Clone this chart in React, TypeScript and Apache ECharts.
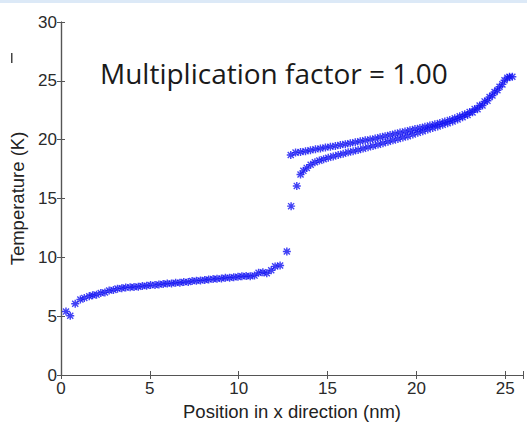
import React, { useEffect, useRef } from "react";
import * as echarts from "echarts";

const xTicks = [0, 5, 10, 15, 20, 25];
const yTicks = [0, 5, 10, 15, 20, 25, 30];

// low-temperature side (x < 12.8 nm)
const lowSide: [number, number][] = [
  [0.28, 5.39], [0.52, 5.03], [0.8, 6.05], [1.09, 6.41], [1.31, 6.55], [1.59, 6.69],
  [1.78, 6.77], [2.0, 6.83], [2.24, 6.96], [2.47, 7.02], [2.71, 7.18], [2.95, 7.23],
  [3.18, 7.34], [3.42, 7.37], [3.64, 7.43], [3.89, 7.45], [4.11, 7.48], [4.35, 7.51],
  [4.58, 7.56], [4.82, 7.59], [5.04, 7.64], [5.29, 7.64], [5.51, 7.7], [5.75, 7.73],
  [5.98, 7.78], [6.22, 7.78], [6.45, 7.84], [6.69, 7.84], [6.91, 7.9], [7.16, 7.9],
  [7.38, 7.98], [7.62, 8.01], [7.85, 8.04], [8.09, 8.07], [8.31, 8.12], [8.56, 8.15],
  [8.78, 8.18], [9.03, 8.2], [9.25, 8.26], [9.49, 8.26], [9.72, 8.31], [9.96, 8.34],
  [10.18, 8.4], [10.42, 8.42], [10.65, 8.4], [10.89, 8.45], [11.12, 8.68], [11.36, 8.73],
  [11.58, 8.65], [11.83, 8.9], [12.05, 9.23], [12.33, 9.31], [12.71, 10.5],
];

// high-temperature side, upper row
const highUpper: [number, number][] = [
  [12.93, 18.7], [13.2, 18.9], [13.48, 18.95], [13.76, 19.02], [14.04, 19.1], [14.32, 19.18],
  [14.6, 19.25], [14.88, 19.33], [15.16, 19.4], [15.44, 19.47], [15.72, 19.54], [16.0, 19.62],
  [16.28, 19.7], [16.56, 19.78], [16.84, 19.86], [17.12, 19.94], [17.4, 20.02], [17.68, 20.1],
  [17.96, 20.2], [18.24, 20.3], [18.52, 20.4], [18.8, 20.5], [19.08, 20.6], [19.36, 20.7],
  [19.64, 20.8], [19.92, 20.9], [20.2, 21.0], [20.48, 21.1], [20.76, 21.2], [21.04, 21.3],
  [21.32, 21.42], [21.6, 21.55], [21.88, 21.68], [22.16, 21.82], [22.44, 21.98], [22.72, 22.15],
  [23.0, 22.35], [23.28, 22.6], [23.56, 22.9], [23.84, 23.25], [24.12, 23.62], [24.4, 24.05],
  [24.68, 24.5], [24.96, 25.05], [25.24, 25.35],
];

// high-temperature side, lower row
const highLower: [number, number][] = [
  [12.95, 14.35], [13.27, 16.07], [13.48, 17.04], [13.64, 17.35], [13.83, 17.6], [14.05, 17.87],
  [14.29, 18.08], [14.54, 18.22], [14.78, 18.34], [15.04, 18.46], [15.32, 18.58], [15.6, 18.7],
  [15.88, 18.8], [16.16, 18.92], [16.44, 19.02], [16.72, 19.12], [17.0, 19.24], [17.28, 19.35],
  [17.56, 19.46], [17.84, 19.58], [18.12, 19.7], [18.4, 19.82], [18.68, 19.94], [18.96, 20.06],
  [19.24, 20.18], [19.52, 20.3], [19.8, 20.44], [20.08, 20.58], [20.36, 20.72], [20.64, 20.86],
  [20.92, 21.0], [21.2, 21.12], [21.48, 21.26], [21.76, 21.4], [22.04, 21.55], [22.32, 21.72],
  [22.6, 21.9], [22.88, 22.1], [23.16, 22.32], [23.44, 22.58], [23.72, 22.9], [24.0, 23.3],
  [24.28, 23.75], [24.56, 24.2], [24.84, 24.7], [25.12, 25.25], [25.4, 25.35],
];

const title = "Multiplication factor = 1.00";
const xName = "Position in x direction (nm)";
const yName = "Temperature (K)";

const STAR =
  "path://M0,4.1 H10 V5.9 H0 Z M4.1,0 H5.9 V10 H4.1 Z M1.8,0.6 L9.4,8.2 L8.2,9.4 L0.6,1.8 Z M8.2,0.6 L9.4,1.8 L1.8,9.4 L0.6,8.2 Z";

const FONT = "Liberation Sans, Arial, sans-serif";

export default function App() {
  const ref = useRef<HTMLDivElement>(null);
  useEffect(() => {
    if (!ref.current) return;
    const chart = echarts.init(ref.current, undefined, { renderer: "svg" });
    const axisColor = "#555";
    const labelStyle = { color: "#2a2a2a", fontSize: 17, fontFamily: FONT };
    const mkSeries = (data: [number, number][]) => ({
      type: "scatter",
      data,
      symbol: STAR,
      symbolSize: 8,
      itemStyle: { color: "#1212f2" },
      xAxisIndex: 0,
      yAxisIndex: 0,
    });
    const mirrorTick = { show: true, inside: true, length: 4, lineStyle: { color: axisColor } };
    chart.setOption({
      animation: false,
      backgroundColor: "#ffffff",
      grid: { left: 60, right: 4, top: 22, bottom: 42, containLabel: false },
      xAxis: [
        {
          type: "value", min: 0, max: 26, interval: 5, position: "bottom",
          axisLine: { show: true, lineStyle: { color: axisColor, width: 1.2 } },
          axisTick: mirrorTick,
          splitLine: { show: false },
          axisLabel: {
            ...labelStyle, margin: 5,
            formatter: (v: number) => (xTicks.includes(v) ? String(v) : ""),
          },
          name: xName, nameLocation: "middle", nameGap: 27,
          nameTextStyle: { color: "#222", fontSize: 18.5, fontFamily: FONT },
        },
        {
          type: "value", min: 0, max: 26, interval: 5, position: "top",
          axisLine: { show: true, lineStyle: { color: axisColor, width: 1.2 } },
          axisTick: mirrorTick,
          axisLabel: { show: false }, splitLine: { show: false },
        },
      ],
      yAxis: [
        {
          type: "value", min: 0, max: 30, interval: 5, position: "left",
          axisLine: { show: true, lineStyle: { color: axisColor, width: 1.2 } },
          axisTick: mirrorTick,
          splitLine: { show: false },
          axisLabel: {
            ...labelStyle, margin: 4,
            formatter: (v: number) => (yTicks.includes(v) ? String(v) : ""),
          },
          name: yName, nameLocation: "middle", nameGap: 34, nameRotate: 90,
          nameTextStyle: { color: "#222", fontSize: 18.5, fontFamily: FONT },
        },
        {
          type: "value", min: 0, max: 30, interval: 5, position: "right",
          axisLine: { show: true, lineStyle: { color: axisColor, width: 1.2 } },
          axisTick: mirrorTick,
          axisLabel: { show: false }, splitLine: { show: false },
        },
      ],
      graphic: [
        { type: "rect", left: 0, top: 0, shape: { width: 527, height: 3 }, style: { fill: "#dce9f7" } },
        { type: "rect", left: 11, top: 53, shape: { width: 1.5, height: 10 }, style: { fill: "#444" } },
        {
          type: "text", x: 100, y: 73,
          style: {
            text: title, fill: "#1a1a1a", fontSize: 28, fontFamily: "Open Sans, sans-serif",
            verticalAlign: "middle", align: "left",
          },
        },
      ],
      series: [mkSeries(lowSide), mkSeries(highUpper), mkSeries(highLower)],
    });
    return () => chart.dispose();
  }, []);
  return (
    <div
      ref={ref}
      style={{ position: "fixed", left: 0, top: 0, width: 527, height: 426 }}
    />
  );
}
